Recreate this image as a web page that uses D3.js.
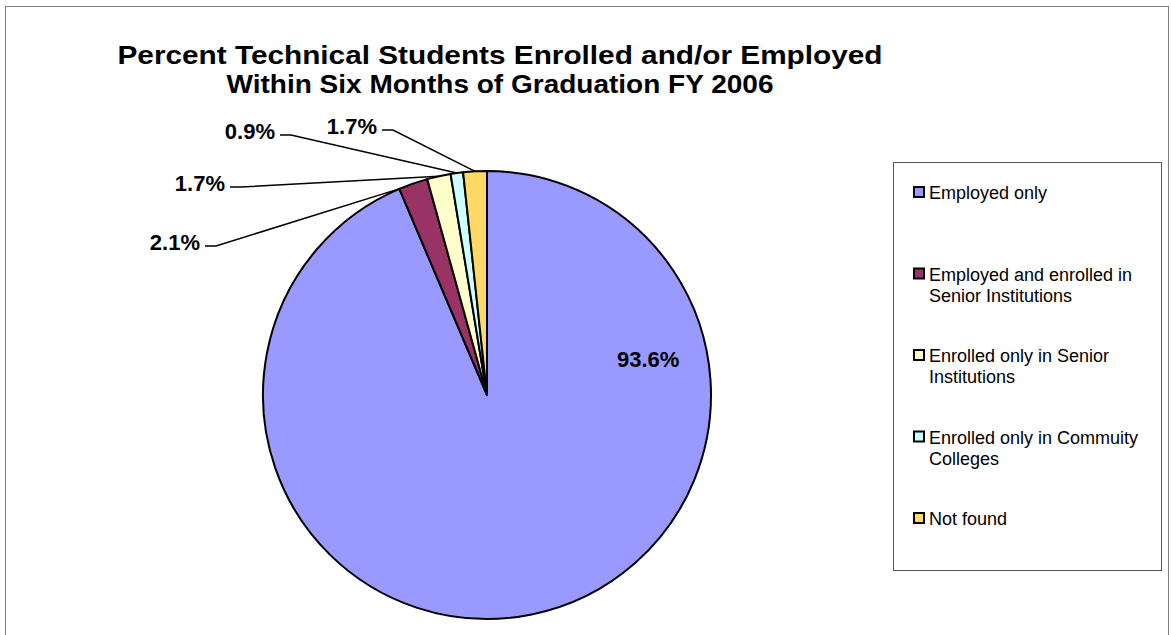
<!DOCTYPE html>
<html>
<head>
<meta charset="utf-8">
<script src="https://cdn.jsdelivr.net/npm/d3@7"></script>
<style>
  body { margin: 0; background: #fff; }
  svg { display: block; font-family: Arial, 'Liberation Sans', sans-serif; }
</style>
</head>
<body>
<svg></svg>
<script>
// Data
const categories = [
  'Employed only',
  'Employed and enrolled in Senior Institutions',
  'Enrolled only in Senior Institutions',
  'Enrolled only in Commuity Colleges',
  'Not found'
]
const legendLines = [
  ['Employed only'],
  ['Employed and enrolled in', 'Senior Institutions'],
  ['Enrolled only in Senior', 'Institutions'],
  ['Enrolled only in Commuity', 'Colleges'],
  ['Not found']
]
const values = [93.6, 2.1, 1.7, 0.9, 1.7]
const colors = ['#9999ff', '#993366', '#ffffcc', '#ccffff', '#ffd966']
const titleLines = [
  'Percent Technical Students Enrolled and/or Employed',
  'Within Six Months of Graduation FY 2006'
]

// Initialization
const width = 1171
const height = 635
const center = [487, 395]
const radius = 224

const svg = d3.select('svg').attr('width', width).attr('height', height)

// chart frame
svg.append('rect')
  .attr('x', 5.5).attr('y', 6.5)
  .attr('width', 1163).attr('height', 640)
  .attr('fill', 'none')
  .attr('stroke', '#808080')

// title (condensed like the original)
const titleWidths = [765, 547]
titleLines.forEach((t, i) => {
  svg.append('text')
    .attr('x', 500).attr('y', 64 + i * 29)
    .attr('text-anchor', 'middle')
    .attr('font-size', 25)
    .attr('font-weight', 'bold')
    .attr('textLength', titleWidths[i])
    .attr('lengthAdjust', 'spacingAndGlyphs')
    .text(t)
})

// Pie
const pie = d3.pie().sort(null).value(d => d)
const arcs = pie(values)
const arc = d3.arc().innerRadius(0).outerRadius(radius)

const g = svg.append('g').attr('transform', `translate(${center})`)
g.selectAll('path')
  .data(arcs)
  .enter()
  .append('path')
  .attr('d', arc)
  .attr('fill', (d, i) => colors[i])
  .attr('stroke', '#000')
  .attr('stroke-width', 2)
  .attr('stroke-linejoin', 'round')

// Labels: [text x (end), baseline y, anchor fraction along slice]
const labelLayout = [
  null,
  [200, 250, 0.02],
  [225, 191, 0.5],
  [275, 139, 0.5],
  [377, 134, 0.5]
]
const fmt = v => v.toFixed(1) + '%'

const outerPoint = (a) => [
  center[0] + radius * Math.sin(a),
  center[1] - radius * Math.cos(a)
]

arcs.forEach((d, i) => {
  const lay = labelLayout[i]
  if (!lay) return
  const a = d.startAngle + (d.endAngle - d.startAngle) * lay[2]
  const p = outerPoint(a)
  const y0 = lay[1] - 4
  svg.append('polyline')
    .attr('points', [[lay[0] + 5, y0], [lay[0] + 16, y0], p].map(q => q.join(',')).join(' '))
    .attr('fill', 'none')
    .attr('stroke', '#000')
    .attr('stroke-width', 1.5)
  svg.append('text')
    .attr('x', lay[0]).attr('y', lay[1])
    .attr('text-anchor', 'end')
    .attr('font-size', 22)
    .attr('font-weight', 'bold')
    .text(fmt(values[i]))
})

// big slice label
svg.append('text')
  .attr('x', 617).attr('y', 367)
  .attr('font-size', 22)
  .attr('font-weight', 'bold')
  .text(fmt(values[0]))

// Legend
const legend = svg.append('g')
legend.append('rect')
  .attr('x', 893.5).attr('y', 162.5)
  .attr('width', 268).attr('height', 408)
  .attr('fill', '#fff')
  .attr('stroke', '#555')
  .attr('stroke-width', 1)

const legendY = d3.scaleLinear().domain([0, 4]).range([199, 525])
legendLines.forEach((lines, i) => {
  const y = legendY(i)
  legend.append('rect')
    .attr('x', 914).attr('y', y - 12)
    .attr('width', 10).attr('height', 10)
    .attr('fill', colors[i])
    .attr('stroke', '#000')
    .attr('stroke-width', 2)
  lines.forEach((l, j) => {
    legend.append('text')
      .attr('x', 929).attr('y', y + j * 21)
      .attr('font-size', 18)
      .text(l)
  })
})
</script>
</body>
</html>
